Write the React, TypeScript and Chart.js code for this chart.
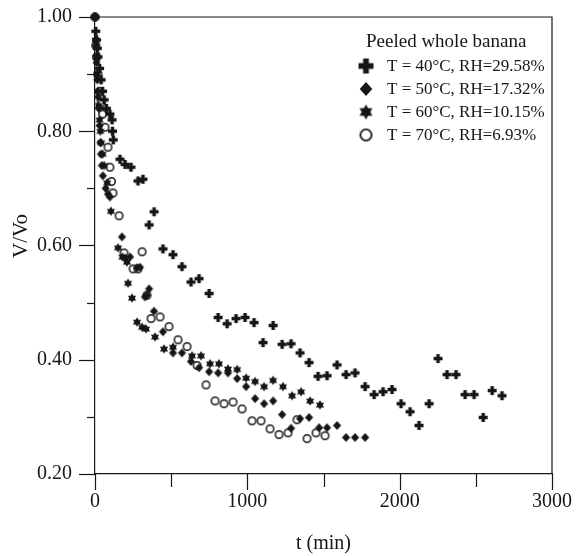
import React, { useEffect, useRef } from "react";
import { Chart, registerables } from "chart.js";

Chart.register(...registerables);

// ---------- data ----------
const t40 = [0, 5, 10, 15, 20, 30, 40, 50, 60, 75, 98, 112, 115, 120, 164, 197, 236, 282, 315, 355, 388, 446, 512, 571, 630, 683, 749, 808, 867, 926, 985, 1044, 1103, 1169, 1228, 1287, 1346, 1405, 1464, 1523, 1589, 1648, 1707, 1773, 1832, 1891, 1950, 2009, 2068, 2127, 2193, 2252, 2311, 2370, 2429, 2488, 2548, 2607, 2672];
const v40 = [1.0, 0.975, 0.96, 0.945, 0.93, 0.91, 0.89, 0.87, 0.855, 0.84, 0.83, 0.82, 0.8, 0.785, 0.751, 0.742, 0.737, 0.713, 0.716, 0.636, 0.659, 0.594, 0.584, 0.563, 0.536, 0.542, 0.516, 0.474, 0.463, 0.472, 0.474, 0.465, 0.43, 0.46, 0.427, 0.428, 0.412, 0.395, 0.371, 0.372, 0.391, 0.374, 0.377, 0.353, 0.339, 0.344, 0.348, 0.323, 0.309, 0.285, 0.323, 0.402, 0.374, 0.374, 0.339, 0.339, 0.299, 0.346, 0.337];

const t50 = [0, 5, 10, 15, 20, 25, 30, 35, 39, 45, 52, 70, 85, 98, 177, 197, 230, 276, 295, 328, 341, 355, 387, 446, 512, 571, 630, 683, 749, 808, 873, 933, 992, 1051, 1110, 1169, 1228, 1287, 1346, 1405, 1471, 1523, 1589, 1648, 1707, 1773];
const v50 = [1.0, 0.95, 0.92, 0.89, 0.86, 0.84, 0.81, 0.78, 0.76, 0.74, 0.722, 0.7, 0.69, 0.685, 0.615, 0.578, 0.58, 0.561, 0.562, 0.51, 0.513, 0.524, 0.485, 0.449, 0.412, 0.412, 0.397, 0.386, 0.379, 0.377, 0.377, 0.367, 0.353, 0.332, 0.323, 0.328, 0.304, 0.28, 0.297, 0.299, 0.281, 0.281, 0.285, 0.264, 0.264, 0.264];

const t60 = [0, 5, 10, 15, 20, 25, 30, 35, 40, 50, 60, 80, 105, 151, 180, 210, 217, 243, 276, 309, 335, 394, 453, 512, 637, 696, 755, 814, 873, 933, 992, 1051, 1110, 1169, 1234, 1294, 1353, 1412, 1477];
const v60 = [1.0, 0.96, 0.93, 0.9, 0.87, 0.845, 0.82, 0.8, 0.78, 0.76, 0.74, 0.71, 0.66, 0.596, 0.58, 0.571, 0.534, 0.508, 0.466, 0.457, 0.454, 0.44, 0.419, 0.422, 0.407, 0.407, 0.393, 0.393, 0.384, 0.383, 0.368, 0.362, 0.353, 0.364, 0.353, 0.337, 0.344, 0.328, 0.321];

const t70 = [0, 5, 10, 20, 30, 40, 50, 66, 85, 98, 108, 118, 158, 190, 250, 282, 309, 341, 368, 427, 486, 545, 604, 670, 729, 788, 847, 906, 965, 1031, 1090, 1149, 1208, 1267, 1326, 1392, 1451, 1510];
const v70 = [1.0, 0.95, 0.93, 0.9, 0.87, 0.85, 0.83, 0.807, 0.772, 0.737, 0.712, 0.692, 0.652, 0.587, 0.559, 0.559, 0.589, 0.513, 0.472, 0.475, 0.458, 0.435, 0.423, 0.39, 0.356, 0.328, 0.323, 0.326, 0.314, 0.293, 0.293, 0.279, 0.269, 0.272, 0.295, 0.262, 0.272, 0.267];

const seriesLabels = ["T = 40°C, RH=29.58%", "T = 50°C, RH=17.32%", "T = 60°C, RH=10.15%", "T = 70°C, RH=6.93%"];
const legendTitle = "Peeled whole banana";
const xTitle = "t (min)";
const yTitle = "V/Vo";

const INK = "#161616";
const FONT = "'Liberation Serif', 'Times New Roman', Times, serif";

type Kind = "cross" | "diamond" | "star" | "circle";
const kinds: Kind[] = ["cross", "diamond", "star", "circle"];

function makeMarker(kind: Kind, size: number): HTMLCanvasElement {
  const s = Math.ceil(size) + 4;
  const c = document.createElement("canvas");
  c.width = s;
  c.height = s;
  const ctx = c.getContext("2d")!;
  const m = s / 2;
  const r = size / 2;
  ctx.fillStyle = INK;
  ctx.strokeStyle = INK;
  if (kind === "cross") {
    const w = size * 0.38;
    ctx.fillRect(m - w / 2, m - r, w, size);
    ctx.fillRect(m - r, m - w / 2, size, w);
  } else if (kind === "diamond") {
    ctx.beginPath();
    ctx.moveTo(m, m - r);
    ctx.lineTo(m + r * 0.9, m);
    ctx.lineTo(m, m + r);
    ctx.lineTo(m - r * 0.9, m);
    ctx.closePath();
    ctx.fill();
  } else if (kind === "star") {
    for (const off of [-Math.PI / 2, Math.PI / 2]) {
      ctx.beginPath();
      for (let k = 0; k < 3; k++) {
        const a = off + (k * 2 * Math.PI) / 3;
        const px = m + r * Math.cos(a);
        const py = m + r * Math.sin(a);
        if (k === 0) ctx.moveTo(px, py);
        else ctx.lineTo(px, py);
      }
      ctx.closePath();
      ctx.fill();
    }
  } else {
    ctx.lineWidth = size > 11 ? 1.8 : 1.5;
    ctx.beginPath();
    ctx.arc(m, m, r - ctx.lineWidth / 2, 0, Math.PI * 2);
    ctx.stroke();
  }
  return c;
}

export default function App() {
  const ref = useRef<HTMLCanvasElement | null>(null);

  useEffect(() => {
    document.body.style.margin = "0";
    const canvas = ref.current;
    if (!canvas) return;

    const plotSizes: Record<Kind, number> = { cross: 9, diamond: 9, star: 9.5, circle: 9 };
    const legendSizes: Record<Kind, number> = { cross: 15, diamond: 14, star: 15, circle: 13 };
    const plotMarkers = kinds.map((k) => makeMarker(k, plotSizes[k]));
    const legendMarkers = kinds.map((k) => makeMarker(k, legendSizes[k]));

    const tArrays = [t40, t50, t60, t70];
    const vArrays = [v40, v50, v60, v70];

    const datasets = tArrays.map((ts, i) => ({
      label: seriesLabels[i],
      data: ts.map((t, j) => ({ x: t, y: vArrays[i][j] })),
      pointStyle: plotMarkers[i] as any,
      pointRadius: 5,
      showLine: false,
      clip: false as any,
    }));

    const decor = {
      id: "decor",
      afterDraw(chart: any) {
        const ctx = chart.ctx as CanvasRenderingContext2D;
        const { left, right, top, bottom } = chart.chartArea;
        const xs = chart.scales.x;
        const ys = chart.scales.y;
        ctx.save();
        ctx.strokeStyle = INK;
        ctx.lineWidth = 1.2;
        ctx.beginPath();
        ctx.moveTo(left, top);
        ctx.lineTo(right, top);
        ctx.lineTo(right, bottom);
        ctx.stroke();
        for (let k = 0; k <= 8; k++) {
          const v = 0.2 + k * 0.1;
          const py = Math.round(ys.getPixelForValue(v)) + 0.5;
          const len = k % 2 === 0 ? 16 : 8;
          ctx.beginPath();
          ctx.moveTo(left - len, py);
          ctx.lineTo(left, py);
          ctx.stroke();
        }
        for (let k = 0; k <= 6; k++) {
          const v = k * 500;
          const px = Math.round(xs.getPixelForValue(v)) + 0.5;
          const len = k % 2 === 0 ? 16 : 13;
          ctx.beginPath();
          ctx.moveTo(px, bottom);
          ctx.lineTo(px, bottom + len);
          ctx.stroke();
        }
        ctx.fillStyle = INK;
        ctx.font = `21px ${FONT}`;
        ctx.textAlign = "center";
        ctx.textBaseline = "middle";
        ctx.translate(21, 236);
        ctx.rotate(-Math.PI / 2);
        ctx.fillText(yTitle, 0, 0);
        ctx.restore();

        ctx.save();
        ctx.fillStyle = INK;
        ctx.textAlign = "left";
        ctx.textBaseline = "middle";
        ctx.font = `19px ${FONT}`;
        ctx.fillText(legendTitle, 366, 42);
        ctx.font = `17px ${FONT}`;
        const rows = [66, 89, 112, 135];
        rows.forEach((y, i) => {
          const img = legendMarkers[i];
          ctx.drawImage(img, 366 - img.width / 2, y - img.height / 2);
          ctx.fillText(seriesLabels[i], 387, y + 1);
        });
        ctx.restore();
      },
    };

    const chart = new Chart(canvas, {
      type: "scatter",
      data: { datasets },
      options: {
        responsive: false,
        animation: false,
        devicePixelRatio: 1,
        layout: { padding: { left: 37, right: 27, top: 17, bottom: 0 } },
        plugins: { legend: { display: false }, tooltip: { enabled: false } },
        scales: {
          x: {
            type: "linear",
            min: 0,
            max: 3000,
            ticks: {
              stepSize: 1000,
              padding: 4,
              color: INK,
              font: { family: FONT, size: 20, lineHeight: 2.4 },
              maxRotation: 0,
              callback: (v: any) => String(v),
            },
            grid: { display: false, drawTicks: false },
            border: { display: true, color: INK, width: 1.2 },
            title: {
              display: true,
              text: xTitle,
              color: INK,
              font: { family: FONT, size: 20 },
              padding: { top: 0, bottom: 0 },
            },
            afterFit: (s: any) => {
              s.height = 82;
            },
          },
          y: {
            type: "linear",
            min: 0.2,
            max: 1.0,
            ticks: {
              stepSize: 0.2,
              padding: 0,
              crossAlign: "far",
              color: INK,
              font: { family: FONT, size: 20 },
              callback: (v: any) => Number(v).toFixed(2),
            },
            grid: { display: false, drawTicks: false },
            border: { display: true, color: INK, width: 1.2 },
            afterFit: (s: any) => {
              s.width = 58;
            },
          },
        },
      },
      plugins: [decor],
    });

    return () => chart.destroy();
  }, []);

  return (
    <div style={{ width: 579, height: 556 }}>
      <canvas ref={ref} width={579} height={556} style={{ width: 579, height: 556, display: "block" }} />
    </div>
  );
}
